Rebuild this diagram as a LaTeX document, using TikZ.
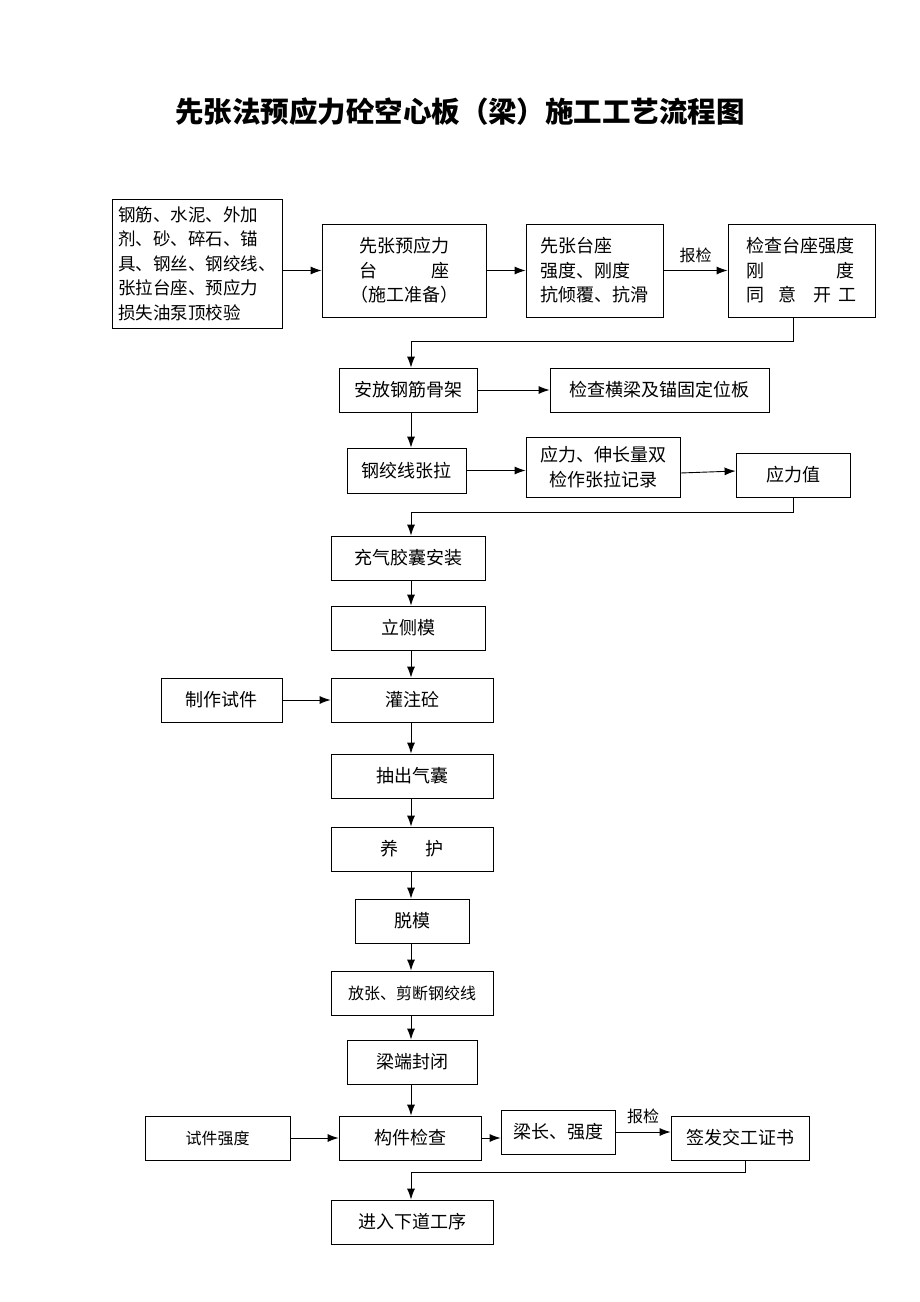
\documentclass[tikz,border=0pt]{standalone}
\usepackage{fontspec}
\setmainfont{Noto Sans CJK SC}
\usetikzlibrary{arrows.meta}
\tikzstyle{process} = [rectangle, draw=black, line width=0.8pt, inner sep=0pt, align=center, font=\fontsize{18}{24.5}\selectfont]
\tikzstyle{smallprocess} = [process, font=\fontsize{16}{20}\selectfont]
\tikzstyle{arrow} = [line width=0.9pt,-{Latex[length=11pt,width=8pt]}]

\begin{document}
\begin{tikzpicture}[x=1pt,y=-1pt]
            \useasboundingbox (0,0) rectangle (920,1302);
            \node (title) at (460,112) {\fontsize{28.5}{32}\selectfont\bfseries 先张法预应力砼空心板（梁）施工工艺流程图};
            \coordinate (col) at (411,0);

            % top row
            \node (mat) [process, minimum width=170, minimum height=129, align=left, font=\fontsize{17.5}{24.5}\selectfont] at (197,263.5) {钢筋、水泥、外加\\剂、砂、碎石、锚\\具、钢丝、钢绞线、\\张拉台座、预应力\\损失油泵顶校验};
            \node (bed) [process, minimum width=164, minimum height=93] at (404,270.5) {先张预应力\\\makebox[5em][s]{台\hfill 座}\\（施工准备）};
            \node (bedchk) [process, minimum width=137, minimum height=93, align=left] at (594.5,270.5) {先张台座\\强度、刚度\\抗倾覆、抗滑};
            \node (agree) [process, minimum width=147, minimum height=93, align=left] at (801.5,270.5) {检查台座强度\\\makebox[6em][s]{刚\hfill 度}\\同\hspace{14pt}意\hspace{17pt}开\hspace{7pt}工};

            % main column
            \node (cage) [process, minimum width=138, minimum height=44] at (408,390) {安放钢筋骨架};
            \node (beam) [process, minimum width=219, minimum height=44] at (659.5,390) {检查横梁及锚固定位板};
            \node (tension) [process, minimum width=119, minimum height=45] at (406.5,470.5) {钢绞线张拉};
            \node (record) [process, minimum width=154, minimum height=60] at (603,467) {应力、伸长量双\\检作张拉记录};
            \node (stress) [process, minimum width=114, minimum height=44] at (793,475) {应力值};
            \node (bag) [process, minimum width=154, minimum height=44] at (408,558) {充气胶囊安装};
            \node (form) [process, minimum width=154, minimum height=44] at (408,628) {立侧模};
            \node (pour) [process, minimum width=162, minimum height=44] at (412,700) {灌注砼};
            \node (sample) [process, minimum width=121, minimum height=44] at (221.5,700) {制作试件};
            \node (pull) [process, minimum width=162, minimum height=44] at (412,776) {抽出气囊};
            \node (cure) [process, minimum width=162, minimum height=44] at (412,849) {养\hspace{28pt}护};
            \node (strip) [process, minimum width=114, minimum height=44] at (412,921) {脱模};
            \node (cut) [smallprocess, minimum width=162, minimum height=44] at (412,993) {放张、剪断钢绞线};
            \node (seal) [process, minimum width=130, minimum height=44] at (412,1062) {梁端封闭};
            \node (check) [process, minimum width=142, minimum height=44] at (410,1138) {构件检查};
            \node (strength) [smallprocess, minimum width=145, minimum height=44] at (217.5,1138) {试件强度};
            \node (length) [process, minimum width=114, minimum height=44] at (558,1132) {梁长、强度};
            \node (cert) [process, minimum width=138, minimum height=44] at (740,1138) {签发交工证书};
            \node (next) [process, minimum width=162, minimum height=44] at (412,1222) {进入下道工序};

            \draw [arrow] (mat.east |- bed.west) -- (bed.west);
            \draw [arrow] (bed) -- (bedchk);
            \draw [arrow] (bedchk) -- node[above, font=\fontsize{16}{18}\selectfont, yshift=4pt] {报检} (agree);
            \draw [arrow] ([xshift=-8]agree.south) -- ++(0,24) -| (cage.north -| col);
            \draw [arrow] (cage) -- (beam);
            \draw [arrow] (cage.south -| col) -- (tension.north -| col);
            \draw [arrow] (tension.east) -- (tension.east -| record.west);
            \draw [arrow] ([yshift=-6pt]record.east) -- ([yshift=4pt]stress.west);
            \draw [arrow] (stress.south) -- ++(0,15) -| (bag.north -| col);
            \draw [arrow] (bag.south -| col) -- (form.north -| col);
            \draw [arrow] (form.south -| col) -- (pour.north -| col);
            \draw [arrow] (sample) -- (pour);
            \draw [arrow] (pour.south -| col) -- (pull.north -| col);
            \draw [arrow] (pull.south -| col) -- (cure.north -| col);
            \draw [arrow] (cure.south -| col) -- (strip.north -| col);
            \draw [arrow] (strip.south -| col) -- (cut.north -| col);
            \draw [arrow] (cut.south -| col) -- (seal.north -| col);
            \draw [arrow] (seal.south -| col) -- (check.north -| col);
            \draw [arrow] (strength) -- (check);
            \draw [arrow] (check.east) -- (check.east -| length.west);
            \draw [arrow] (length.east) -- node[above, font=\fontsize{16}{18}\selectfont, yshift=4pt] {报检} (length.east -| cert.west);
            \draw [arrow] ([xshift=5]cert.south) -- ++(0,12) -| (next.north -| col);
        \end{tikzpicture}
\end{document}
